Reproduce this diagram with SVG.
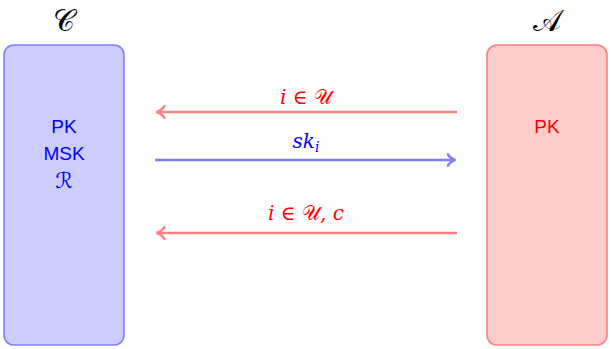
<svg xmlns="http://www.w3.org/2000/svg" width="611" height="349" viewBox="0 0 611 349">
<style>
.sans{font-family:"Liberation Sans",Arial,sans-serif;font-size:19px;text-anchor:middle}
.math{font-family:"DejaVu Serif","Liberation Serif",serif;font-style:italic;font-size:20px;text-anchor:middle}
.scr{font-family:"DejaVu Sans","Noto Sans",sans-serif;font-style:normal;font-weight:normal}
.big{font-size:30px}
.red{fill:#ff0000}
.blue{fill:#0000ff}
.lr{stroke:#ff8080;stroke-width:2.4;fill:none}
.lb{stroke:#8080ff;stroke-width:2.4;fill:none}
</style>
<defs>
<marker id="hr" viewBox="-2 -7 11 14" markerWidth="11" markerHeight="14" refX="6.5" refY="0" orient="auto" markerUnits="userSpaceOnUse">
<path d="M-1,-6 C1,-3 4,-0.7 7,0 C4,0.7 1,3 -1,6" fill="none" stroke="#ff8080" stroke-width="2.4" stroke-linecap="round"/>
</marker>
<marker id="hb" viewBox="-2 -7 11 14" markerWidth="11" markerHeight="14" refX="6.5" refY="0" orient="auto" markerUnits="userSpaceOnUse">
<path d="M-1,-6 C1,-3 4,-0.7 7,0 C4,0.7 1,3 -1,6" fill="none" stroke="#8080ff" stroke-width="2.4" stroke-linecap="round"/>
</marker>
</defs>
<g id="challenger">
<rect x="4" y="45" width="120" height="300" rx="10" fill="#ccccff" stroke="#8080ff" stroke-width="1.6"/>
<text x="64" y="31" class="math scr big" fill="#000">𝒞</text>
<text x="64" y="133" class="sans blue">PK</text>
<text x="64" y="160" class="sans blue">MSK</text>
<text x="64" y="188" class="math scr blue" style="font-size:22px">ℛ</text>
</g>
<g id="adversary">
<rect x="487" y="45" width="120" height="300" rx="10" fill="#ffcccc" stroke="#ff8080" stroke-width="1.6"/>
<text x="547" y="31" class="math scr big" fill="#000">𝒜</text>
<text x="547" y="133" class="sans red">PK</text>
</g>
<g id="connectors">
<path class="lr" d="M457,112 H157" marker-end="url(#hr)"/>
<path class="lb" d="M155,160 H455" marker-end="url(#hb)"/>
<path class="lr" d="M457,233 H157" marker-end="url(#hr)"/>
<text x="306" y="104" class="math red">i ∈ <tspan class="scr">𝒰</tspan></text>
<text x="306" y="148" class="math blue">sk<tspan font-size="14" dy="4">i</tspan></text>
<text x="306" y="220" class="math red">i ∈ <tspan class="scr">𝒰</tspan>, c</text>
</g>
</svg>
